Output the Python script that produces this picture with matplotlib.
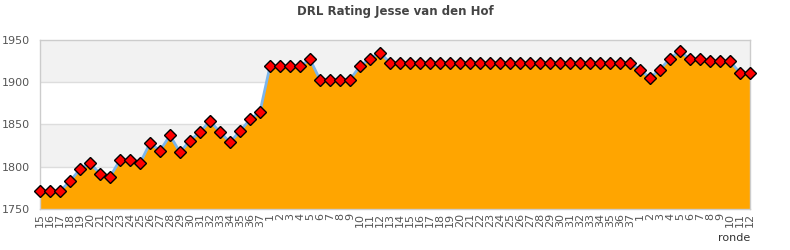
import numpy as np
import matplotlib
matplotlib.use("Agg")
import matplotlib.pyplot as plt

# ronde labels: season end (15-37), full season (1-37), new season (1-12)
ROUNDS = [str(r) for r in range(15, 38)] + [str(r) for r in range(1, 38)] + [str(r) for r in range(1, 13)]

RATING = [
    1771, 1771, 1771, 1783, 1797, 1804, 1792, 1788, 1808, 1808,
    1804, 1828, 1819, 1837, 1817, 1831, 1841, 1854, 1841, 1829,
    1842, 1856, 1865,
    1919, 1919, 1919, 1919, 1927, 1903, 1903, 1903, 1903, 1919,
    1928, 1935, 1923, 1923, 1923, 1923, 1923, 1923, 1923, 1923,
    1923, 1923, 1923, 1923, 1923, 1923, 1923, 1923, 1923, 1923,
    1923, 1923, 1923, 1923, 1923, 1923, 1923,
    1915, 1905, 1915, 1928, 1937, 1927, 1927, 1925, 1925, 1925,
    1911, 1911,
]

YMIN, YMAX = 1750, 1950
YTICKS = [1750, 1800, 1850, 1900, 1950]

fig = plt.figure(figsize=(7.9, 2.5), dpi=100)
ax = fig.add_axes([40 / 790, 41 / 250, 710 / 790, 169 / 250])

x = np.arange(len(RATING))
y = np.array(RATING)

# alternating bands
for i in range(len(YTICKS) - 1):
    if i % 2 == 1:
        ax.axhspan(YTICKS[i], YTICKS[i + 1], color="#f2f2f2", zorder=0, lw=0)
for t in YTICKS[1:-1]:
    ax.axhline(t, color="#dddddd", lw=1, zorder=0.5)

ax.fill_between(x, y, YMIN, color="#ffa500", lw=0, zorder=1)
ax.plot(x, y, color="#7cb5ec", lw=2, zorder=2)
ax.plot(x, y, ls="none", marker="D", markersize=6.5, markerfacecolor="#ff0000",
        markeredgecolor="black", markeredgewidth=1, zorder=3, clip_on=False)

ax.set_xlim(0, len(RATING) - 1)
ax.set_ylim(YMIN, YMAX)
ax.set_yticks(YTICKS)
ax.set_xticks(x)
ax.set_xticklabels(ROUNDS, rotation=90, fontsize=8, color="#555555")
ax.tick_params(axis="y", labelsize=8, labelcolor="#555555", length=0, pad=7)
ax.tick_params(axis="x", length=0, pad=3)
for s in ax.spines.values():
    s.set_color("#cccccc")
    s.set_linewidth(1)

ax.set_xlabel("ronde", fontsize=8, color="#333333", loc="right", labelpad=4)
fig.text(0.5, 1 - 11 / 250, "DRL Rating Jesse van den Hof", ha="center", va="center",
         fontsize=8.5, fontweight="bold", color="#444444")

fig.savefig("out.png", dpi=100)
